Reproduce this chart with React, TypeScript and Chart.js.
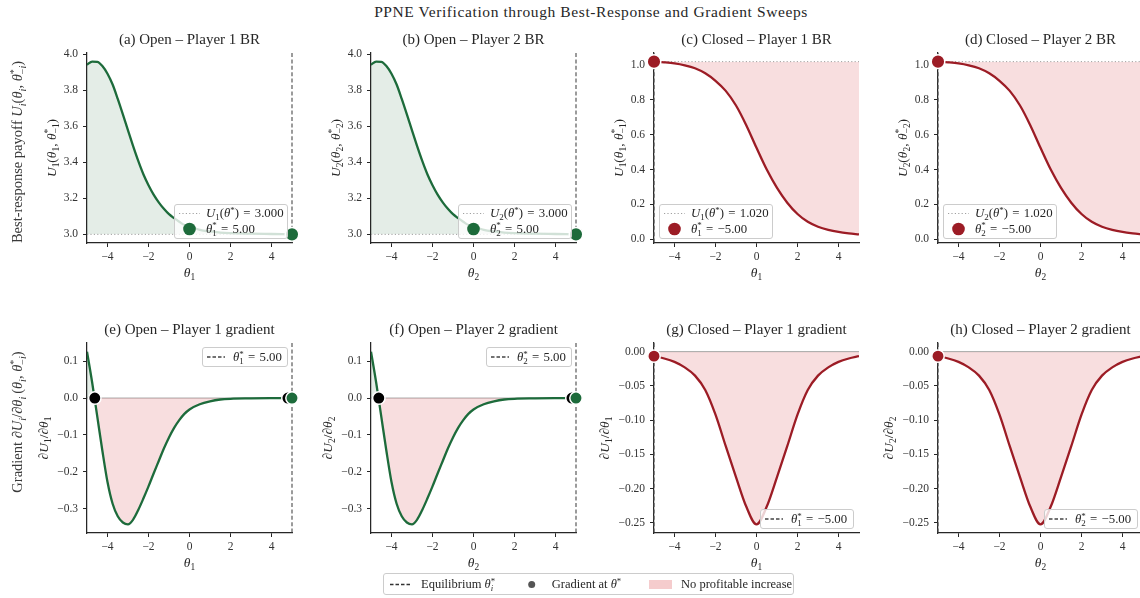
import React, { useEffect, useRef } from 'react';
import { Chart, registerables } from 'chart.js';

Chart.register(...registerables);

const SERIF = '"Liberation Serif", "Times New Roman", serif';
const TEXT = '#262626';
const GREEN = '#1d6b3b';
const RED = '#9c1c25';
const GREEN_FILL = 'rgba(29,107,59,0.12)';
const PINK_FILL = 'rgba(214,50,55,0.16)';
const EQ_SP = '\u2004=\u2004';

// ---------------- data ----------------
const THETA_OPEN = [-5, -4.75, -4.5, -4.25, -4, -3.75, -3.5, -3.25, -3, -2.75, -2.5, -2.25, -2, -1.75, -1.5, -1.25, -1, -0.75, -0.5, -0.25, 0, 0.5, 1, 1.5, 2, 3, 4, 5];
const U_OPEN = [3.942, 3.959, 3.958, 3.935, 3.892, 3.832, 3.752, 3.666, 3.577, 3.49, 3.408, 3.334, 3.273, 3.221, 3.178, 3.142, 3.112, 3.09, 3.07, 3.052, 3.043, 3.025, 3.016, 3.01, 3.007, 3.004, 3.002, 3.0];
const GRAD_OPEN = [0.126, 0.043, -0.05, -0.143, -0.228, -0.287, -0.321, -0.338, -0.343, -0.33, -0.304, -0.273, -0.24, -0.205, -0.171, -0.137, -0.107, -0.081, -0.06, -0.043, -0.031, -0.017, -0.009, -0.004, -0.002, -0.001, -0.0004, 0.0];
const ZERO_CROSS_OPEN = [-4.62, 4.8];

const THETA_CLOSED = [-5, -4.5, -4, -3.5, -3, -2.5, -2, -1.5, -1, -0.5, 0, 0.5, 1, 1.5, 2, 2.5, 3, 3.5, 4, 4.5, 5];
const U_CLOSED = [1.02, 1.016, 1.01, 0.999, 0.982, 0.953, 0.91, 0.852, 0.768, 0.655, 0.525, 0.4, 0.295, 0.21, 0.145, 0.1, 0.072, 0.054, 0.042, 0.034, 0.028];
const GRAD_CLOSED = [-0.0066, -0.01, -0.015, -0.023, -0.035, -0.056, -0.092, -0.138, -0.183, -0.226, -0.252, -0.226, -0.183, -0.138, -0.092, -0.056, -0.035, -0.023, -0.015, -0.01, -0.0066];

const EQ_OPEN = 5.0;
const EQ_CLOSED = -5.0;
const U_STAR_OPEN = 3.0;
const U_STAR_CLOSED = 1.02;
const GRAD_STAR_OPEN = 0.0;
const GRAD_STAR_CLOSED = -0.0066;

const X_TICKS = [-4, -2, 0, 2, 4];
const Y_TICKS_BR_OPEN = [3.0, 3.2, 3.4, 3.6, 3.8, 4.0];
const Y_TICKS_BR_CLOSED = [0.0, 0.2, 0.4, 0.6, 0.8, 1.0];
const Y_TICKS_GRAD_OPEN = [-0.3, -0.2, -0.1, 0.0, 0.1];
const Y_TICKS_GRAD_CLOSED = [-0.25, -0.2, -0.15, -0.1, -0.05, 0.0];

const SUPTITLE = 'PPNE Verification through Best-Response and Gradient Sweeps';

type Regime = 'open' | 'closed';
type Kind = 'br' | 'grad';
type Spec = { id: string; title: string; row: number; col: number; regime: Regime; kind: Kind; player: number };

const PANELS: Spec[] = [
  { id: 'a', title: '(a) Open – Player 1 BR', row: 0, col: 0, regime: 'open', kind: 'br', player: 1 },
  { id: 'b', title: '(b) Open – Player 2 BR', row: 0, col: 1, regime: 'open', kind: 'br', player: 2 },
  { id: 'c', title: '(c) Closed – Player 1 BR', row: 0, col: 2, regime: 'closed', kind: 'br', player: 1 },
  { id: 'd', title: '(d) Closed – Player 2 BR', row: 0, col: 3, regime: 'closed', kind: 'br', player: 2 },
  { id: 'e', title: '(e) Open – Player 1 gradient', row: 1, col: 0, regime: 'open', kind: 'grad', player: 1 },
  { id: 'f', title: '(f) Open – Player 2 gradient', row: 1, col: 1, regime: 'open', kind: 'grad', player: 2 },
  { id: 'g', title: '(g) Closed – Player 1 gradient', row: 1, col: 2, regime: 'closed', kind: 'grad', player: 1 },
  { id: 'h', title: '(h) Closed – Player 2 gradient', row: 1, col: 3, regime: 'closed', kind: 'grad', player: 2 },
];

// ---------------- layout ----------------
const PLOT_LEFT = [87, 371, 654, 938];
const PLOT_TOP = [53, 343];
const PLOT_W = 205;
const PLOT_H = 190;
const PR = 12;

function geom(p: Spec) {
  const YW = p.col === 0 ? 87 : 80;
  const PT = p.row === 0 ? 31 : 38;
  const XH = p.row === 0 ? 47 : 39;
  const left = PLOT_LEFT[p.col] - YW;
  const top = PLOT_TOP[p.row] - PT;
  return { YW, PT, XH, left, top, width: YW + PLOT_W + PR, height: PT + PLOT_H + XH };
}

// ---------------- rich text ----------------
type Tok = { chars: { c: string; it: boolean }[]; lvl: number; stack: boolean };
function parseRich(s: string): Tok[] {
  const out: Tok[] = [];
  let math = false;
  let i = 0;
  let lastScript = false;
  const ital = (c: string) => /[A-Za-z\u03b1-\u03c9\u2202]/.test(c);
  while (i < s.length) {
    const c = s[i];
    if (c === '$') { math = !math; i++; continue; }
    if (math && (c === '_' || c === '^')) {
      let g: string;
      if (s[i + 1] === '{') { const k = s.indexOf('}', i + 2); g = s.slice(i + 2, k); i = k + 1; }
      else { g = s[i + 1]; i += 2; }
      const lvl = c === '_' ? 1 : -1;
      const prev = out[out.length - 1];
      const stack = lastScript && !!prev && prev.lvl === -lvl;
      out.push({ chars: Array.from(g).map((ch) => ({ c: ch, it: ital(ch) })), lvl, stack });
      lastScript = true;
      continue;
    }
    out.push({ chars: [{ c, it: math && ital(c) }], lvl: 0, stack: false });
    lastScript = false;
    i++;
  }
  return out;
}

function drawRich(ctx: CanvasRenderingContext2D, s: string, x: number, y: number, size: number, align = 'center', color = TEXT, rot = 0) {
  const toks = parseRich(s);
  const font = (it: boolean, sz: number) => `${it ? 'italic ' : ''}${sz}px ${SERIF}`;
  const placed: { tok: Tok; x: number; sz: number }[] = [];
  let w = 0, prevStart = 0, prevW = 0;
  for (const t of toks) {
    const sz = t.lvl ? size * 0.7 : size;
    let tw = 0;
    for (const ch of t.chars) { ctx.font = font(ch.it, sz); tw += ctx.measureText(ch.c).width; }
    let start: number;
    if (t.stack) { start = prevStart; w = prevStart + Math.max(prevW, tw); }
    else { start = w; w += tw; }
    placed.push({ tok: t, x: start, sz });
    prevStart = start; prevW = tw;
  }
  ctx.save();
  ctx.translate(x, y);
  if (rot) ctx.rotate((rot * Math.PI) / 180);
  const x0 = align === 'center' ? -w / 2 : align === 'right' ? -w : 0;
  ctx.fillStyle = color;
  ctx.textBaseline = 'alphabetic';
  ctx.textAlign = 'left';
  const base = size * 0.34;
  for (const p of placed) {
    const dy = p.tok.lvl === 1 ? size * 0.22 : p.tok.lvl === -1 ? -size * 0.36 : 0;
    let cx = x0 + p.x;
    for (const ch of p.tok.chars) {
      ctx.font = font(ch.it, p.sz);
      ctx.fillText(ch.c, cx, base + dy);
      cx += ctx.measureText(ch.c).width;
    }
  }
  ctx.restore();
}

function roundBox(ctx: CanvasRenderingContext2D, x: number, y: number, w: number, h: number, r: number) {
  ctx.beginPath();
  ctx.moveTo(x + r, y);
  ctx.lineTo(x + w - r, y);
  ctx.quadraticCurveTo(x + w, y, x + w, y + r);
  ctx.lineTo(x + w, y + h - r);
  ctx.quadraticCurveTo(x + w, y + h, x + w - r, y + h);
  ctx.lineTo(x + r, y + h);
  ctx.quadraticCurveTo(x, y + h, x, y + h - r);
  ctx.lineTo(x, y + r);
  ctx.quadraticCurveTo(x, y, x + r, y);
  ctx.closePath();
}

function legendFrame(ctx: CanvasRenderingContext2D, x: number, y: number, w: number, h: number) {
  ctx.save();
  roundBox(ctx, x + 0.5, y + 0.5, w, h, 2.5);
  ctx.fillStyle = 'rgba(255,255,255,0.8)';
  ctx.fill();
  ctx.strokeStyle = '#cccccc';
  ctx.lineWidth = 1;
  ctx.stroke();
  ctx.restore();
}

function sampleLine(ctx: CanvasRenderingContext2D, x1: number, x2: number, y: number, color: string, dash: number[], lw: number) {
  ctx.save();
  ctx.strokeStyle = color;
  ctx.lineWidth = lw;
  ctx.setLineDash(dash);
  ctx.beginPath();
  ctx.moveTo(x1, y);
  ctx.lineTo(x2, y);
  ctx.stroke();
  ctx.restore();
}

function sampleDot(ctx: CanvasRenderingContext2D, x: number, y: number, r: number, color: string, edge: string | null) {
  ctx.save();
  ctx.beginPath();
  ctx.arc(x, y, r, 0, Math.PI * 2);
  ctx.fillStyle = color;
  ctx.fill();
  if (edge) { ctx.strokeStyle = edge; ctx.lineWidth = 1.2; ctx.stroke(); }
  ctx.restore();
}

const fmt = (v: number, d: number) => v.toFixed(d).replace('-', '\u2212');

function specData(p: Spec) {
  const open = p.regime === 'open';
  const xs = open ? THETA_OPEN : THETA_CLOSED;
  const ys = p.kind === 'br' ? (open ? U_OPEN : U_CLOSED) : (open ? GRAD_OPEN : GRAD_CLOSED);
  const eq = open ? EQ_OPEN : EQ_CLOSED;
  const star = p.kind === 'br' ? (open ? U_STAR_OPEN : U_STAR_CLOSED) : (open ? GRAD_STAR_OPEN : GRAD_STAR_CLOSED);
  const ref = p.kind === 'br' ? star : 0;
  const yTicks = p.kind === 'br' ? (open ? Y_TICKS_BR_OPEN : Y_TICKS_BR_CLOSED) : (open ? Y_TICKS_GRAD_OPEN : Y_TICKS_GRAD_CLOSED);
  const dec = p.kind === 'grad' && !open ? 2 : 1;
  const lo = Math.min(...ys, ref);
  const hi = Math.max(...ys, ref);
  const m = (hi - lo) * 0.05;
  return { open, xs, ys, eq, star, ref, yTicks, dec, ylo: lo - m, yhi: hi + m, color: open ? GREEN : RED };
}

function makeChart(canvas: HTMLCanvasElement, p: Spec) {
  const g = geom(p);
  const d = specData(p);
  const n = p.player;
  const datasets: any[] = [];
  datasets.push({
    type: 'scatter', data: [{ x: d.eq, y: d.star }], pointRadius: p.kind === 'br' ? 6.8 : 6.2,
    pointBackgroundColor: d.color, pointBorderColor: '#ffffff', pointBorderWidth: 1.5, clip: false, order: 0,
  });
  if (p.kind === 'grad' && d.open) {
    datasets.push({
      type: 'scatter', data: ZERO_CROSS_OPEN.map((z) => ({ x: z, y: 0 })), pointRadius: 6.2,
      pointBackgroundColor: '#000000', pointBorderColor: '#ffffff', pointBorderWidth: 1.5, clip: false, order: 1,
    });
  }
  let fill: any;
  if (p.kind === 'br') {
    fill = d.open
      ? { target: { value: d.ref }, above: GREEN_FILL, below: 'rgba(0,0,0,0)' }
      : { target: { value: d.ref }, above: 'rgba(0,0,0,0)', below: PINK_FILL };
  } else {
    fill = { target: { value: 0 }, above: GREEN_FILL, below: PINK_FILL };
  }
  datasets.push({
    type: 'line', data: d.xs.map((x, i) => ({ x, y: d.ys[i] })), borderColor: d.color, borderWidth: 2.3,
    pointRadius: 0, cubicInterpolationMode: 'monotone', fill, order: 2,
  });
  datasets.push({
    type: 'line', data: [{ x: -5, y: d.ref }, { x: 5, y: d.ref }], pointRadius: 0, fill: false, order: 3,
    borderColor: p.kind === 'br' ? '#a0a0a0' : 'rgba(130,130,130,0.7)', borderWidth: 1,
    borderDash: p.kind === 'br' ? [1.2, 2.2] : [],
  });

  const deco = {
    id: 'deco',
    beforeDatasetsDraw(chart: any) {
      const { ctx, chartArea: a, scales } = chart;
      const px = scales.x.getPixelForValue(d.eq);
      ctx.save();
      ctx.strokeStyle = '#4a4a4a';
      ctx.lineWidth = 1.1;
      ctx.setLineDash([4, 2.4]);
      ctx.beginPath();
      ctx.moveTo(px, a.top);
      ctx.lineTo(px, a.bottom);
      ctx.stroke();
      ctx.restore();
    },
    afterDraw(chart: any) {
      const { ctx, chartArea: a } = chart;
      const cx = (a.left + a.right) / 2;
      const cy = (a.top + a.bottom) / 2;
      drawRich(ctx, p.title, cx, a.top - 14, 15, 'center');
      drawRich(ctx, `$\u03b8_${n}$`, cx, a.bottom + 29.5, 13.5, 'center');
      const ylab = p.kind === 'br' ? `$U_${n}(\u03b8_${n}, \u03b8^*_{\u2212${n}})$` : `$\u2202U_${n}/\u2202\u03b8_${n}$`;
      const yoff = p.kind === 'br' ? 35.5 : d.open ? 44 : 50;
      drawRich(ctx, ylab, a.left - yoff, cy, 13.5, 'center', TEXT, -90);
      if (p.col === 0) {
        const outer = p.kind === 'br'
          ? 'Best-response payoff $U_i(\u03b8_i, \u03b8^*_{\u2212i})$'
          : 'Gradient $\u2202U_i/\u2202\u03b8_i\u2009(\u03b8_i, \u03b8^*_{\u2212i})$';
        const oy = (p.row === 0 ? 152 : 422) - g.top;
        drawRich(ctx, outer, 17.5, oy, 14.5, 'center', '#3a3a3a', -90);
      }
      // legends
      const lf = 12.8;
      if (p.kind === 'br') {
        const w = 113, h = 34;
        const lx = d.open ? a.right - 5 - w : a.left + 5;
        const ly = a.top + 151;
        legendFrame(ctx, lx, ly, w, h);
        sampleLine(ctx, lx + 5, lx + 26, ly + 9.5, '#a0a0a0', [1.2, 2.2], 1);
        drawRich(ctx, `$U_${n}(\u03b8^*)${EQ_SP}${d.star.toFixed(3)}$`, lx + 32, ly + 9, lf, 'left');
        sampleDot(ctx, lx + 15.5, ly + 25, 6.3, d.color, null);
        drawRich(ctx, `$\u03b8^*_${n}${EQ_SP}${fmt(d.eq, 2)}$`, lx + 32, ly + 24.5, lf, 'left');
      } else {
        const w = d.open ? 85 : 93, h = 19;
        const lx = a.right - (d.open ? 5 : 6) - w;
        const ly = d.open ? a.top + 4 : a.bottom - 5 - h;
        legendFrame(ctx, lx, ly, w, h);
        sampleLine(ctx, lx + 5, lx + 23, ly + 10, '#444444', [3.5, 2], 1.4);
        drawRich(ctx, `$\u03b8^*_${n}${EQ_SP}${fmt(d.eq, 2)}$`, lx + 31, ly + 10, lf, 'left');
      }
    },
  };

  return new Chart(canvas, {
    type: 'line',
    data: { datasets },
    options: {
      animation: false,
      responsive: false,
      maintainAspectRatio: false,
      devicePixelRatio: 1,
      events: [],
      layout: { padding: { top: g.PT, right: PR, left: 0, bottom: 0 } },
      plugins: { legend: { display: false }, tooltip: { enabled: false }, title: { display: false } },
      scales: {
        x: {
          type: 'linear', min: -5, max: 5,
          afterBuildTicks: (s: any) => { s.ticks = X_TICKS.map((v) => ({ value: v })); },
          afterFit: (s: any) => { s.height = g.XH; },
          ticks: { callback: (v: any) => fmt(Number(v), 0), color: '#333', font: { family: SERIF, size: 11.5 }, padding: 3, autoSkip: false, maxRotation: 0 },
          grid: { drawOnChartArea: false, drawTicks: true, tickLength: 4, tickColor: '#262626', tickWidth: 1 },
          border: { display: true, color: '#262626', width: 1.25 },
        },
        y: {
          type: 'linear', min: d.ylo, max: d.yhi,
          afterBuildTicks: (s: any) => { s.ticks = d.yTicks.map((v) => ({ value: v })); },
          afterFit: (s: any) => { s.width = g.YW; },
          ticks: { callback: (v: any) => fmt(Number(v), d.dec), color: '#333', font: { family: SERIF, size: 11.5 }, padding: 5, autoSkip: false },
          grid: { drawOnChartArea: false, drawTicks: true, tickLength: 4, tickColor: '#262626', tickWidth: 1 },
          border: { display: true, color: '#262626', width: 1.25 },
        },
      },
    } as any,
    plugins: [deco],
  } as any);
}

function Panel({ p }: { p: Spec }) {
  const ref = useRef<HTMLCanvasElement>(null);
  const g = geom(p);
  useEffect(() => {
    const chart = makeChart(ref.current as HTMLCanvasElement, p);
    return () => chart.destroy();
  }, []);
  return (
    <canvas
      ref={ref}
      width={g.width}
      height={g.height}
      style={{ position: 'absolute', left: g.left, top: g.top, width: g.width, height: g.height }}
    />
  );
}

function BottomLegend() {
  const ref = useRef<HTMLCanvasElement>(null);
  useEffect(() => {
    const c = ref.current as HTMLCanvasElement;
    const ctx = c.getContext('2d') as CanvasRenderingContext2D;
    ctx.clearRect(0, 0, c.width, c.height);
    legendFrame(ctx, 0, 0, 410, 21);
    sampleLine(ctx, 7, 29, 11.5, '#333333', [3.5, 2], 1.4);
    drawRich(ctx, 'Equilibrium $\u03b8^*_i$', 38, 11, 12.5, 'left');
    sampleDot(ctx, 148.7, 11.5, 3.5, '#555555', null);
    drawRich(ctx, 'Gradient at $\u03b8^*$', 168.7, 11, 12.5, 'left');
    ctx.fillStyle = 'rgba(214,50,55,0.25)';
    ctx.fillRect(266, 7, 23, 9);
    drawRich(ctx, 'No profitable increase', 298, 11, 12.5, 'left');
  }, []);
  return <canvas ref={ref} width={412} height={23} style={{ position: 'absolute', left: 383, top: 573 }} />;
}

export default function App() {
  useEffect(() => {
    document.body.style.margin = '0';
  }, []);
  return (
    <div style={{ position: 'absolute', left: 0, top: 0, width: 1140, height: 598, overflow: 'hidden', background: '#ffffff' }}>
      <div
        style={{
          position: 'absolute', left: 591 - 300, top: 2, width: 600, textAlign: 'center',
          fontFamily: SERIF, fontSize: 15.5, letterSpacing: '0.6px', color: TEXT, lineHeight: '20px', whiteSpace: 'nowrap',
        }}
      >
        {SUPTITLE}
      </div>
      {PANELS.map((p) => (
        <Panel key={p.id} p={p} />
      ))}
      <BottomLegend />
    </div>
  );
}
